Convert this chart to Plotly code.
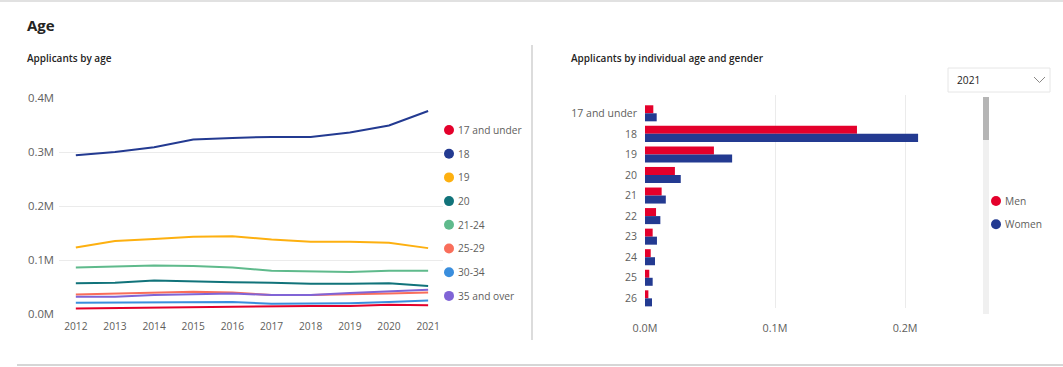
import plotly.graph_objects as go

# ---------------- data ----------------
years = [2012, 2013, 2014, 2015, 2016, 2017, 2018, 2019, 2020, 2021]
age_groups = ["17 and under", "18", "19", "20", "21-24", "25-29", "30-34", "35 and over"]
s_17_under = [10000, 11000, 12000, 13000, 13000, 14000, 15000, 15000, 17000, 16000]
s_18 = [294000, 300000, 309000, 323000, 326000, 328000, 328000, 336000, 349000, 376000]
s_19 = [123000, 135000, 139000, 143000, 144000, 138000, 134000, 134000, 132000, 122000]
s_20 = [57000, 58000, 62000, 60000, 59000, 58000, 56000, 56000, 57000, 52000]
s_21_24 = [86000, 88000, 90000, 89000, 86000, 80000, 79000, 78000, 80000, 80000]
s_25_29 = [36000, 38000, 39000, 41000, 40000, 35000, 35000, 36000, 38000, 40000]
s_30_34 = [21000, 21000, 22000, 22000, 22000, 19000, 19000, 20000, 22000, 25000]
s_35_over = [32000, 32000, 35000, 37000, 38000, 35000, 35000, 39000, 42000, 45000]
group_colors = ["#E4002B", "#233A91", "#FDB010", "#11737A", "#5FBA8C", "#F96E5B", "#3A8EDD", "#8064D6"]

left_tickvals = [0, 100000, 200000, 300000, 400000]
left_ticktext = ["0.0M", "0.1M", "0.2M", "0.3M", "0.4M"]

ind_ages = ["17 and under", "18", "19", "20", "21", "22", "23", "24", "25", "26"]
men = [6400, 163000, 53000, 23000, 12800, 8500, 5900, 4400, 3300, 2600]
women = [9000, 210000, 67000, 27500, 16000, 11800, 9200, 7700, 5900, 5400]
genders = ["Men", "Women"]
gender_colors = ["#E4002B", "#233A91"]
right_tickvals = [0, 100000, 200000]
right_ticktext = ["0.0M", "0.1M", "0.2M"]
selected_year = "2021"

# ---------------- geometry ----------------
W, H = 1063, 367
def px(x):
    return x / W
def py(y):
    return 1 - y / H

FONT = "Segoe UI, Open Sans, sans-serif"
TICK = "#605E5C"
DARK = "#252423"
GRID = "#EBEBEB"
TS = 10.2

fig = go.Figure()

series = [s_17_under, s_18, s_19, s_20, s_21_24, s_25_29, s_30_34, s_35_over]
for name, vals, col in zip(age_groups, series, group_colors):
    fig.add_trace(go.Scatter(x=years, y=vals, mode="lines", name=name,
                             line=dict(color=col, width=2), showlegend=False,
                             xaxis="x", yaxis="y"))

for name, vals, col in zip(genders, [men, women], gender_colors):
    fig.add_trace(go.Bar(y=ind_ages, x=vals, orientation="h", name=name,
                         marker=dict(color=col, line=dict(width=0)), showlegend=False,
                         xaxis="x2", yaxis="y2"))

shapes = []
annotations = []

# frame lines
shapes.append(dict(type="line", xref="paper", yref="paper", x0=0, x1=1, y0=py(1), y1=py(1),
                   line=dict(color="#E1E1E1", width=2)))
shapes.append(dict(type="line", xref="paper", yref="paper", x0=px(17), x1=1, y0=py(365), y1=py(365),
                   line=dict(color="#D6D6D6", width=2)))
shapes.append(dict(type="line", xref="paper", yref="paper", x0=px(532), x1=px(532), y0=py(45), y1=py(340),
                   line=dict(color="#D0D0D0", width=1.5)))

# titles
annotations.append(dict(text="Age", x=px(25), y=py(25), xref="paper", yref="paper", xanchor="left",
                        yanchor="middle", showarrow=False, font=dict(family=FONT, size=15, color=DARK, weight=700)))
annotations.append(dict(text="Applicants by age", x=px(25), y=py(58), xref="paper", yref="paper", xanchor="left",
                        yanchor="middle", showarrow=False, font=dict(family=FONT, size=10, color=DARK, weight=600)))
annotations.append(dict(text="Applicants by individual age and gender", x=px(569), y=py(58), xref="paper", yref="paper",
                        xanchor="left", yanchor="middle", showarrow=False,
                        font=dict(family=FONT, size=10, color=DARK, weight=600)))

# left legend
for i, (name, col) in enumerate(zip(age_groups, group_colors)):
    yc = 130 + 23.7 * i
    shapes.append(dict(type="circle", xref="paper", yref="paper", xsizemode="pixel", ysizemode="pixel",
                       xanchor=px(449), yanchor=py(yc), x0=-5, x1=5, y0=-5, y1=5,
                       fillcolor=col, line=dict(width=0)))
    annotations.append(dict(text=name, x=px(456), y=py(yc), xref="paper", yref="paper", xanchor="left",
                            yanchor="middle", showarrow=False, font=dict(family=FONT, size=TS, color=TICK)))

# right legend
for i, (name, col) in enumerate(zip(genders, gender_colors)):
    yc = 201 + 23.3 * i
    shapes.append(dict(type="circle", xref="paper", yref="paper", xsizemode="pixel", ysizemode="pixel",
                       xanchor=px(996), yanchor=py(yc), x0=-5, x1=5, y0=-5, y1=5,
                       fillcolor=col, line=dict(width=0)))
    annotations.append(dict(text=name, x=px(1003), y=py(yc), xref="paper", yref="paper", xanchor="left",
                            yanchor="middle", showarrow=False, font=dict(family=FONT, size=TS, color=TICK)))

# scrollbar
shapes.append(dict(type="rect", xref="paper", yref="paper", x0=px(983), x1=px(989), y0=py(314), y1=py(97),
                   fillcolor="#F0F0F0", line=dict(width=0), layer="below"))
shapes.append(dict(type="rect", xref="paper", yref="paper", x0=px(983), x1=px(989), y0=py(140), y1=py(97),
                   fillcolor="#B5B5B5", line=dict(width=0)))

# dropdown
shapes.append(dict(type="rect", xref="paper", yref="paper", x0=px(948), x1=px(1050), y0=py(92), y1=py(68),
                   fillcolor="white", line=dict(color="#E6E6E6", width=1)))
shapes.append(dict(type="path", xref="paper", yref="paper",
                   path=f"M {px(1034)} {py(77)} L {px(1039.5)} {py(82.5)} L {px(1045)} {py(77)}",
                   line=dict(color="#8A8886", width=1)))
annotations.append(dict(text=selected_year, x=px(955), y=py(80), xref="paper", yref="paper", xanchor="left",
                        yanchor="middle", showarrow=False, font=dict(family=FONT, size=TS, color=DARK)))

fig.update_layout(
    width=W, height=H, margin=dict(l=0, r=0, t=0, b=0, pad=0, autoexpand=False),
    paper_bgcolor="white", plot_bgcolor="white",
    font=dict(family=FONT, size=TS, color=TICK),
    showlegend=False,
    barmode="group", bargap=0.22, bargroupgap=0,
    shapes=shapes, annotations=annotations,
    xaxis=dict(domain=[px(59), px(443)], range=[2011.57, 2021.38], tickvals=years,
               ticktext=[str(y) for y in years], showgrid=False, zeroline=False, showline=False,
               tickfont=dict(family=FONT, size=TS, color=TICK), anchor="y", automargin=False,
               ticklabelstandoff=5),
    yaxis=dict(domain=[py(314), py(98)], range=[0, 400000], tickvals=left_tickvals, ticktext=left_ticktext,
               showgrid=True, gridcolor=GRID, gridwidth=1, zeroline=False, showline=False,
               tickfont=dict(family=FONT, size=11.3, color=TICK), anchor="x", ticklabelstandoff=4,
               automargin=False),
    xaxis2=dict(domain=[px(645), px(935)], range=[0, 223000], tickvals=right_tickvals, ticktext=right_ticktext,
                showgrid=True, gridcolor=GRID, zeroline=False, showline=False,
                tickfont=dict(family=FONT, size=10.8, color=TICK), anchor="y2", automargin=False,
                ticklabelstandoff=12),
    yaxis2=dict(domain=[py(308), py(95)], range=[9.47, -0.89], type="category", showgrid=False,
                zeroline=False, showline=False, tickfont=dict(family=FONT, size=10.5, color=TICK),
                anchor="x2", ticklabelstandoff=7, automargin=False),
)

fig.write_html(
    "out.html",
    config={"displayModeBar": False},
    post_script="}); document.body.style.margin='0'; document.documentElement.style.overflow='hidden'; (function(){",
)
